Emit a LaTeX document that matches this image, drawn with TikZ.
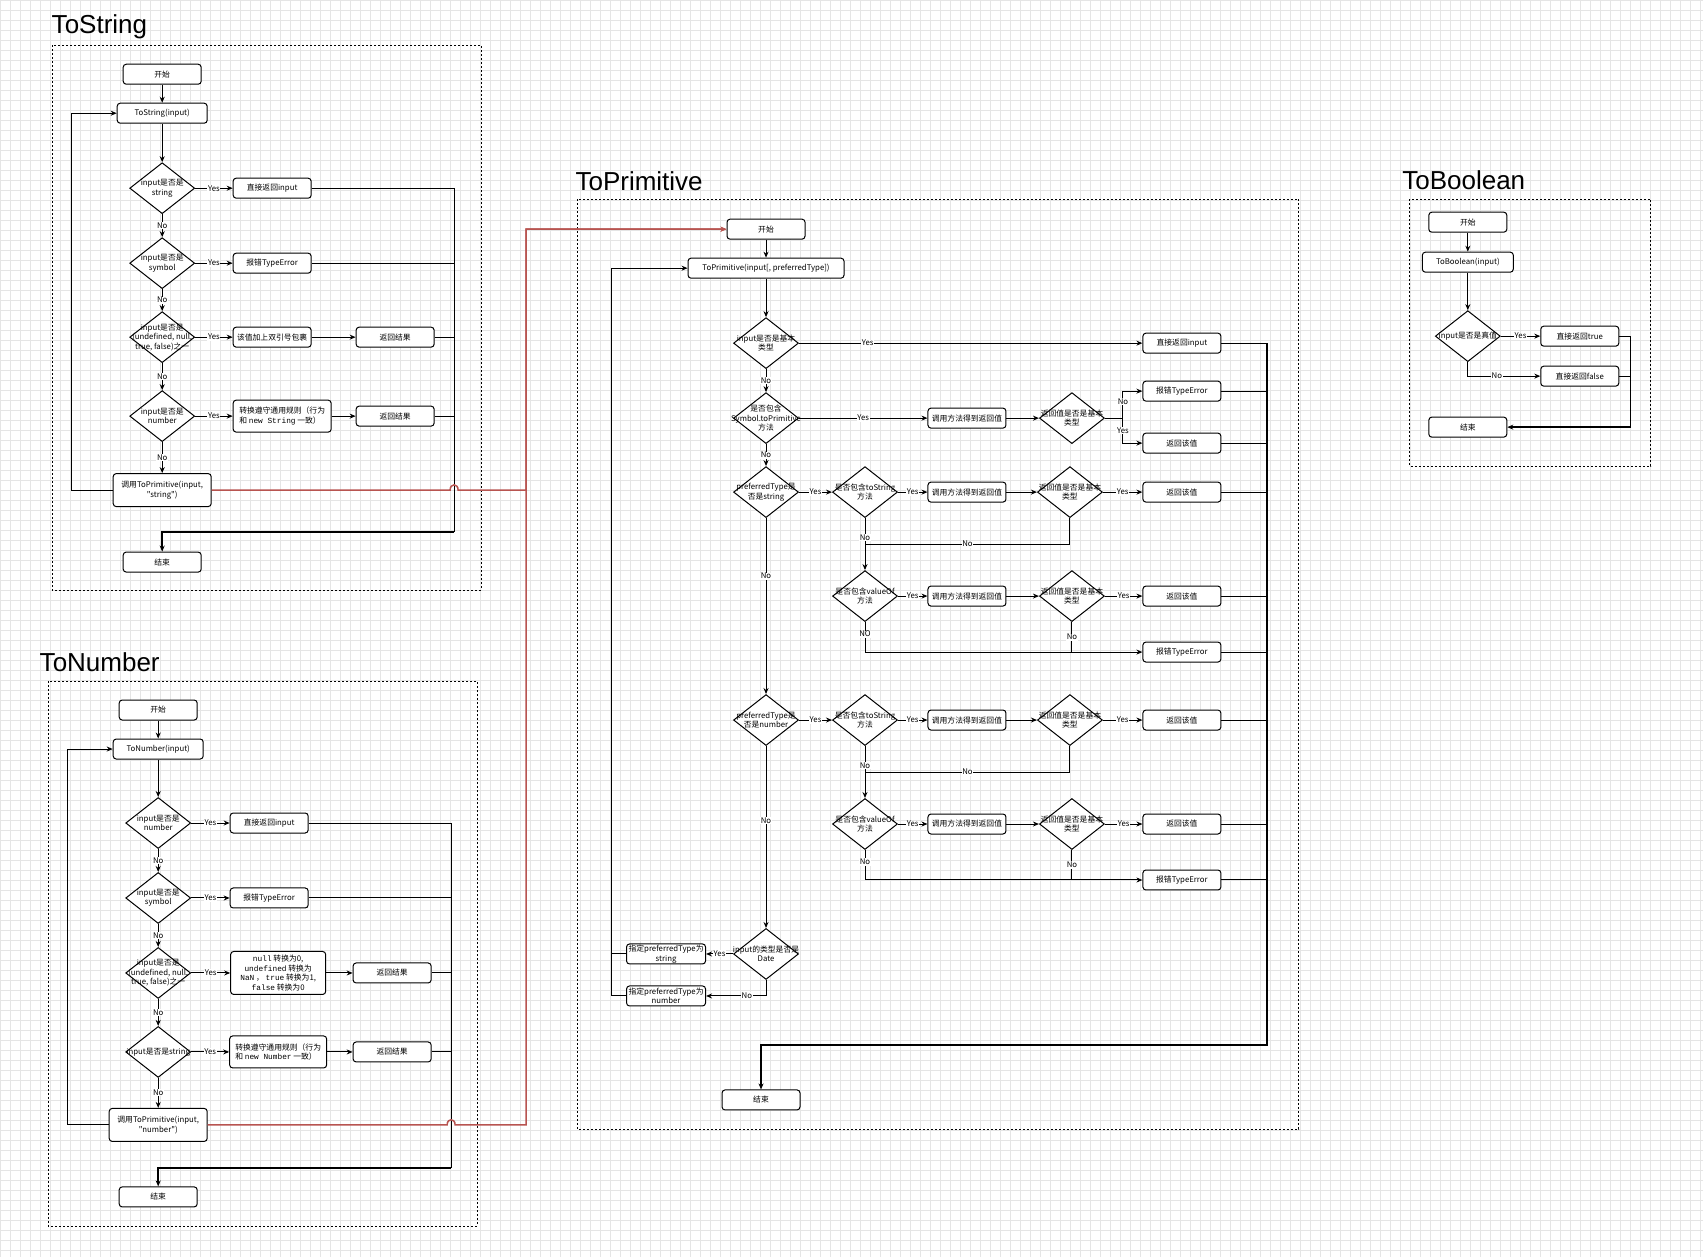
\documentclass[tikz,border=0pt]{standalone}
\usepackage{fontspec}
\setmainfont{Liberation Sans}
\setmonofont{Liberation Mono}
\newfontfamily\cjk{Noto Sans CJK SC}
\newcommand\flowfont{\cjk\fontsize{7.8}{9.5}\selectfont}
\usepackage{tikz}
\usetikzlibrary{arrows.meta,shapes.geometric}
\definecolor{jsred}{RGB}{184,84,80}

\begin{document}
\begin{tikzpicture}[x=1pt,y=-1pt,line width=1pt,>={Stealth[length=6pt,width=5pt]},
  box/.style={draw,rounded corners=3pt,fill=white,minimum width=78pt,minimum height=20pt,inner sep=1pt,align=center,font=\flowfont},
  dia/.style={draw,diamond,fill=white,minimum width=65pt,minimum height=51pt,inner sep=0pt,label={[lbl]center:{#1}}},
  lbl/.style={align=center,inner sep=0pt,font=\flowfont},
  yn/.style={fill=white,inner sep=0.6pt,font=\flowfont},
  frame/.style={draw,dash pattern=on 2pt off 2pt,line width=0.8pt},
  title/.style={anchor=base west,inner sep=0pt,font=\fontsize{26}{30}\selectfont},
  bus/.style={line width=2pt},
  redline/.style={draw=jsred,line width=1.5pt}]
  \fill[white] (0,0) rectangle (1703,1257);
  \draw[black!10,line width=0.5pt,step=10pt] (0,1257) grid (1703,0);
  \useasboundingbox (0,0) rectangle (1703,1257);

  \node[title] (tS) at (51,33) {ToString};
  \draw[frame] (52,45) rectangle (481,590);
  \node[box] (sStart) at (162,74) {开始};
  \node[box,minimum width=90pt] (sCall) at (162,113) {ToString(input)};
  \node[dia={input是否是\\string}] (sQ1) at (162,188) {};
  \node[box] (sR1) at (272,188) {直接返回input};
  \node[dia={input是否是\\symbol}] (sQ2) at (162,263) {};
  \node[box] (sR2) at (272,263) {报错TypeError};
  \node[dia={input是否是\\(undefined, null,\\true, false)之一}] (sQ3) at (162,337) {};
  \node[box] (sA3) at (272,337) {该值加上双引号包裹};
  \node[box] (sR3) at (395,337) {返回结果};
  \node[dia={input是否是\\number}] (sQ4) at (162,416) {};
  \node[box,minimum width=98pt,minimum height=32pt,align=left] (sA4) at (282,416) {转换遵守通用规则（行为\\和 \texttt{new String} 一致）};
  \node[box] (sR4) at (395,416) {返回结果};
  \node[box,minimum width=98pt,minimum height=33pt] (sPrim) at (162,490) {调用ToPrimitive(input,\\"string")};
  \node[box] (sEnd) at (162,562) {结束};
  \coordinate (sBus) at (454,532);
  \draw[->] (sStart) -- (sCall);
  \draw[->] (sCall) -- (sQ1);
  \draw[->] (sQ1) -- node[yn]{Yes} (sR1);
  \draw[->] (sQ1) -- node[yn]{No} (sQ2);
  \draw[->] (sQ2) -- node[yn]{Yes} (sR2);
  \draw[->] (sQ2) -- node[yn]{No} (sQ3);
  \draw[->] (sQ3) -- node[yn]{Yes} (sA3);
  \draw[->] (sA3) -- (sR3);
  \draw[->] (sQ3) -- node[yn]{No} (sQ4);
  \draw[->] (sQ4) -- node[yn]{Yes} (sA4);
  \draw[->] (sA4) -- (sR4);
  \draw[->] (sQ4) -- node[yn]{No} (sPrim);
  \draw[->] (sPrim.west) -- (71,490) |- (sCall.west);
  \draw (sR1.east) -| (sBus);
  \foreach \n in {sR2,sR3,sR4} \draw (\n.east) -- (\n.east -| sBus);
  \draw[->,bus] (sBus) -| (sEnd.north);

  \node[title] (tN) at (39,671) {ToNumber};
  \draw[frame] (48,681) rectangle (477,1226);
  \node[box] (nStart) at (158,710) {开始};
  \node[box,minimum width=90pt] (nCall) at (158,749) {ToNumber(input)};
  \node[dia={input是否是\\number}] (nQ1) at (158,823) {};
  \node[box] (nR1) at (269,823) {直接返回input};
  \node[dia={input是否是\\symbol}] (nQ2) at (158,898) {};
  \node[box] (nR2) at (269,898) {报错TypeError};
  \node[dia={input是否是\\(undefined, null,\\true, false)之一}] (nQ3) at (158,973) {};
  \node[box,minimum width=95pt,minimum height=43pt] (nA3) at (278,973) {\texttt{null} 转换为0,\\\texttt{undefined} 转换为\\\texttt{NaN} ，\ \texttt{true} 转换为1,\\\texttt{false} 转换为0};
  \node[box] (nR3) at (392,973) {返回结果};
  \node[dia={input是否是string}] (nQ4) at (158,1052) {};
  \node[box,minimum width=97pt,minimum height=32pt,align=left] (nA4) at (278,1052) {转换遵守通用规则（行为\\和 \texttt{new Number} 一致）};
  \node[box] (nR4) at (392,1052) {返回结果};
  \node[box,minimum width=98pt,minimum height=33pt] (nPrim) at (158,1125) {调用ToPrimitive(input,\\"number")};
  \node[box] (nEnd) at (158,1197) {结束};
  \coordinate (nBus) at (451,1168);
  \draw[->] (nStart) -- (nCall);
  \draw[->] (nCall) -- (nQ1);
  \draw[->] (nQ1) -- node[yn]{Yes} (nR1);
  \draw[->] (nQ1) -- node[yn]{No} (nQ2);
  \draw[->] (nQ2) -- node[yn]{Yes} (nR2);
  \draw[->] (nQ2) -- node[yn]{No} (nQ3);
  \draw[->] (nQ3) -- node[yn]{Yes} (nA3);
  \draw[->] (nA3) -- (nR3);
  \draw[->] (nQ3) -- node[yn]{No} (nQ4);
  \draw[->] (nQ4) -- node[yn]{Yes} (nA4);
  \draw[->] (nA4) -- (nR4);
  \draw[->] (nQ4) -- node[yn]{No} (nPrim);
  \draw[->] (nPrim.west) -- (67,1125) |- (nCall.west);
  \draw (nR1.east) -| (nBus);
  \foreach \n in {nR2,nR3,nR4} \draw (\n.east) -- (\n.east -| nBus);
  \draw[->,bus] (nBus) -| (nEnd.north);

  \node[title] (tP) at (575,190) {ToPrimitive};
  \draw[frame] (577,199) rectangle (1299,1129);
  \node[box] (pStart) at (766,229) {开始};
  \node[box,minimum width=156pt] (pCall) at (766,268) {ToPrimitive(input[, preferredType])};
  \node[dia={input是否是基本\\类型}] (pQ1) at (766,343) {};
  \node[box] (pR1) at (1182,343) {直接返回input};
  \node[dia={是否包含\\Symbol.toPrimitive\\方法}] (pQ2) at (766,418) {};
  \node[box] (pM2) at (967,418) {调用方法得到返回值};
  \node[dia={返回值是否是基本\\类型}] (pV2) at (1072,418) {};
  \node[box] (pE2) at (1182,391) {报错TypeError};
  \node[box] (pS2) at (1182,443) {返回该值};
  \coordinate (pF2) at (1123,418);
  \node[dia={preferredType是\\否是string}] (pQ3) at (766,492) {};
  \node[dia={是否包含toString\\方法}] (pT3) at (865,492) {};
  \node[box] (pM3) at (967,492) {调用方法得到返回值};
  \node[dia={返回值是否是基本\\类型}] (pV3) at (1070,492) {};
  \node[box] (pS3) at (1182,492) {返回该值};
  \coordinate (pJ3) at (865,544);
  \node[dia={是否包含valueOf\\方法}] (pO3) at (865,596) {};
  \node[box] (pN3) at (967,596) {调用方法得到返回值};
  \node[dia={返回值是否是基本\\类型}] (pW3) at (1072,596) {};
  \node[box] (pS3b) at (1182,596) {返回该值};
  \node[box] (pE3) at (1182,652) {报错TypeError};
  \node[dia={preferredType是\\否是number}] (pQ4) at (766,720) {};
  \node[dia={是否包含toString\\方法}] (pT4) at (865,720) {};
  \node[box] (pM4) at (967,720) {调用方法得到返回值};
  \node[dia={返回值是否是基本\\类型}] (pV4) at (1070,720) {};
  \node[box] (pS4) at (1182,720) {返回该值};
  \coordinate (pJ4) at (865,772);
  \node[dia={是否包含valueOf\\方法}] (pO4) at (865,824) {};
  \node[box] (pN4) at (967,824) {调用方法得到返回值};
  \node[dia={返回值是否是基本\\类型}] (pW4) at (1072,824) {};
  \node[box] (pS4b) at (1182,824) {返回该值};
  \node[box] (pE4) at (1182,880) {报错TypeError};
  \node[dia={input的类型是否是\\Date}] (pD) at (766,954) {};
  \node[box,minimum width=79pt,inner sep=0pt] (pPs) at (666,954) {指定preferredType为\\string};
  \node[box,minimum width=79pt,inner sep=0pt] (pPn) at (666,996) {指定preferredType为\\number};
  \coordinate (pL) at (611,996);
  \node[box] (pEnd) at (761,1100) {结束};
  \coordinate (pBus) at (1267,1045);
  \draw[->] (pStart) -- (pCall);
  \draw[->] (pCall) -- (pQ1);
  \draw[->] (pQ1) -- node[yn,pos=0.2]{Yes} (pR1);
  \draw[->] (pQ1) -- node[yn]{No} (pQ2);
  \draw[->] (pQ2) -- node[yn]{Yes} (pM2);
  \draw[->] (pM2) -- (pV2);
  \draw (pV2.east) -- (pF2);
  \draw[->] (pF2) |- node[yn,pos=0.3]{No} (pE2);
  \draw[->] (pF2) |- node[yn,pos=0.25]{Yes} (pS2);
  \draw[->] (pQ2) -- node[yn]{No} (pQ3);
  \draw[->] (pQ3) -- node[yn]{Yes} (pT3);
  \draw[->] (pT3) -- node[yn]{Yes} (pM3);
  \draw[->] (pM3) -- (pV3);
  \draw[->] (pV3) -- node[yn]{Yes} (pS3);
  \draw[->] (pT3) -- node[yn,pos=0.38]{No} (pO3);
  \draw (pV3.south) |- node[yn,pos=0.75]{No} (pJ3);
  \draw[->] (pO3) -- node[yn]{Yes} (pN3);
  \draw[->] (pN3) -- (pW3);
  \draw[->] (pW3) -- node[yn]{Yes} (pS3b);
  \draw[->] (pO3) |- node[yn,pos=0.2]{NO} (pE3);
  \draw (pW3) -- node[yn]{No} (pW3 |- pE3);
  \draw[->] (pQ3) -- node[yn,pos=0.33]{No} (pQ4);
  \draw[->] (pQ4) -- node[yn]{Yes} (pT4);
  \draw[->] (pT4) -- node[yn]{Yes} (pM4);
  \draw[->] (pM4) -- (pV4);
  \draw[->] (pV4) -- node[yn]{Yes} (pS4);
  \draw[->] (pT4) -- node[yn,pos=0.38]{No} (pO4);
  \draw (pV4.south) |- node[yn,pos=0.75]{No} (pJ4);
  \draw[->] (pO4) -- node[yn]{Yes} (pN4);
  \draw[->] (pN4) -- (pW4);
  \draw[->] (pW4) -- node[yn]{Yes} (pS4b);
  \draw[->] (pO4) |- node[yn,pos=0.2]{No} (pE4);
  \draw (pW4) -- node[yn]{No} (pW4 |- pE4);
  \draw[->] (pQ4) -- node[yn,pos=0.41]{No} (pD);
  \draw[->] (pD) -- node[yn]{Yes} (pPs);
  \draw[->] (pD) |- node[yn,pos=0.66]{No} (pPn);
  \draw (pPs.west) -- (pPs.west -| pL);
  \draw[->] (pPn.west) -- (pL) |- (pCall.west);
  \draw (pR1.east) -- (pR1.east -| pBus);
  \foreach \n in {pE2,pS2,pS3,pS3b,pE3,pS4,pS4b,pE4} \draw (\n.east) -- (\n.east -| pBus);
  \draw[->,bus] (pR1.east -| pBus) -- (pBus) -| (pEnd.north);

  \node[title] (tB) at (1402,189) {ToBoolean};
  \draw[frame] (1410,199) rectangle (1651,466);
  \node[box] (bStart) at (1468,222) {开始};
  \node[box,minimum width=91pt] (bCall) at (1468,262) {ToBoolean(input)};
  \node[dia={input是否是真值}] (bQ) at (1468,336) {};
  \node[box] (bT) at (1580,336) {直接返回true};
  \node[box] (bF) at (1580,376) {直接返回false};
  \node[box] (bEnd) at (1468,427) {结束};
  \coordinate (bBus) at (1631,427);
  \draw[->] (bStart) -- (bCall);
  \draw[->] (bCall) -- (bQ);
  \draw[->] (bQ) -- node[yn]{Yes} (bT);
  \draw[->] (bQ) |- node[yn,pos=0.7]{No} (bF);
  \draw (bT.east) -| (bBus);
  \draw (bF.east) -- (bF.east -| bBus);
  \draw[->,bus] (bBus) -- (bEnd);

  \draw[->,redline] (sPrim.east) -- (450,490) .. controls (450,483) and (458,483) .. (458,490) -- (526,490) -- (526,229) -- (pStart.west);
  \draw[->,redline] (nPrim.east) -- (447,1125) .. controls (447,1118) and (455,1118) .. (455,1125) -- (526,1125) -- (526,229) -- (pStart.west);
\end{tikzpicture}
\end{document}
